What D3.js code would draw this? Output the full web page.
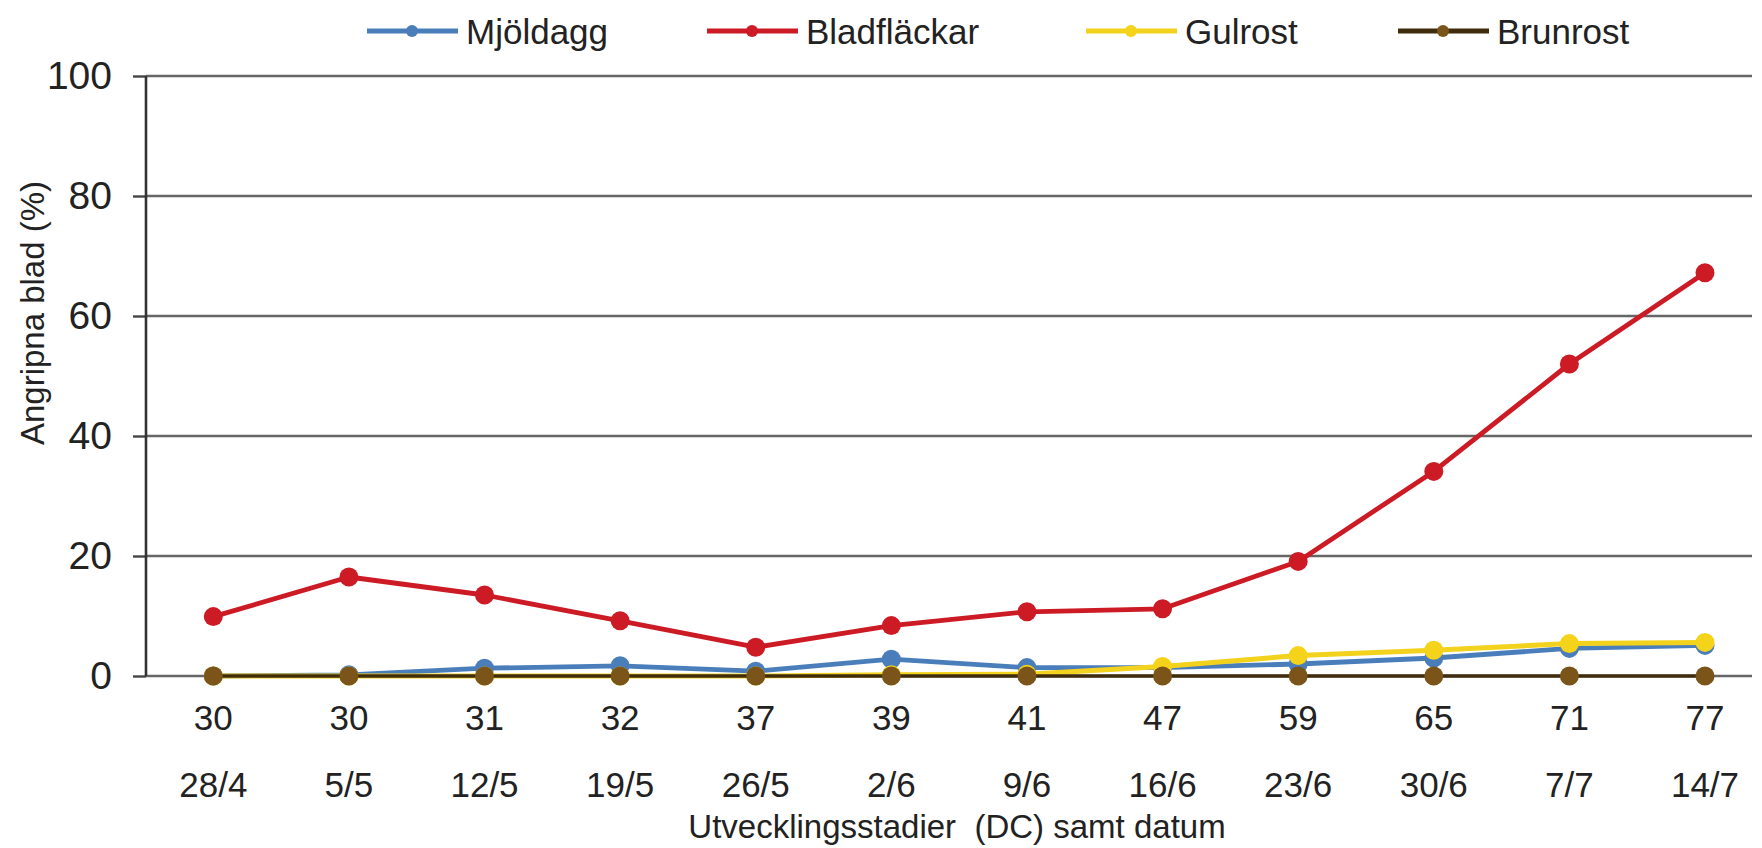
<!DOCTYPE html>
<html>
<head>
<meta charset="utf-8">
<script src="https://cdn.jsdelivr.net/npm/d3@7"></script>
<style>
  body { margin: 0; background: #fff; }
  svg text { font-family: "Liberation Sans", Arial, sans-serif; fill: #222; }
</style>
</head>
<body>
<svg id="chart" width="1762" height="848"></svg>
<script>
// data
const dcStages = ["30", "30", "31", "32", "37", "39", "41", "47", "59", "65", "71", "77"];
const dates = ["28/4", "5/5", "12/5", "19/5", "26/5", "2/6", "9/6", "16/6", "23/6", "30/6", "7/7", "14/7"];
const mjoldagg = [0, 0.2, 1.3, 1.7, 0.8, 2.8, 1.4, 1.4, 2.0, 3.0, 4.6, 5.1];
const bladflackar = [9.9, 16.5, 13.5, 9.2, 4.8, 8.4, 10.7, 11.2, 19.1, 34.1, 52.0, 67.2];
const gulrost = [0, 0, 0, 0, 0, 0.2, 0.3, 1.6, 3.4, 4.3, 5.4, 5.6];
const brunrost = [0, 0, 0, 0, 0, 0, 0, 0, 0, 0, 0, 0];
const yTicks = [0, 20, 40, 60, 80, 100];

const series = [
  { name: "Mjöldagg", values: mjoldagg, line: "#4a7ebb", dot: "#4a7ebb", width: 4.8 },
  { name: "Bladfläckar", values: bladflackar, line: "#cc1b25", dot: "#cc1b25", width: 4.8 },
  { name: "Gulrost", values: gulrost, line: "#f2d21c", dot: "#f5d31a", width: 5 },
  { name: "Brunrost", values: brunrost, line: "#3f2c0c", dot: "#7a5418", width: 3.5 }
];

const svg = d3.select("#chart");

const plotLeft = 146;
const plotRight = 1752;

const x = d3.scalePoint()
  .domain(d3.range(dcStages.length))
  .range([213.3, 1705]);

const y = d3.scaleLinear()
  .domain([0, 100])
  .range([676, 76]);

// ticks + labels on the left
const yAxis = svg.append("g")
  .attr("transform", `translate(${plotLeft},0)`)
  .call(d3.axisLeft(y)
    .tickValues(yTicks)
    .tickSize(13)
    .tickPadding(21));

yAxis.select(".domain").remove();
yAxis.selectAll(".tick line")
  .attr("stroke", "#444")
  .attr("stroke-width", 2.4);
yAxis.selectAll(".tick text")
  .attr("font-size", 39)
  .attr("font-family", "Liberation Sans, Arial, sans-serif")
  .attr("fill", "#222");

// horizontal gridlines
svg.append("g")
  .selectAll("line")
  .data(yTicks)
  .join("line")
    .attr("x1", plotLeft)
    .attr("x2", plotRight)
    .attr("y1", d => y(d))
    .attr("y2", d => y(d))
    .attr("stroke", "#666")
    .attr("stroke-width", 2.4);

// vertical axis line
svg.append("line")
  .attr("x1", plotLeft)
  .attr("x2", plotLeft)
  .attr("y1", y(100))
  .attr("y2", y(0))
  .attr("stroke", "#333")
  .attr("stroke-width", 2.6);

// x labels, two rows
svg.append("g")
  .selectAll("text")
  .data(dcStages)
  .join("text")
    .attr("x", (d, i) => x(i))
    .attr("y", 717)
    .attr("text-anchor", "middle")
    .attr("dominant-baseline", "central")
    .attr("font-size", 35)
    .text(d => d);

svg.append("g")
  .selectAll("text")
  .data(dates)
  .join("text")
    .attr("x", (d, i) => x(i))
    .attr("y", 784)
    .attr("text-anchor", "middle")
    .attr("dominant-baseline", "central")
    .attr("font-size", 35)
    .text(d => d);

// axis titles
svg.append("text")
  .attr("x", 957)
  .attr("y", 826)
  .attr("text-anchor", "middle")
  .attr("dominant-baseline", "central")
  .attr("font-size", 33)
  .attr("xml:space", "preserve")
  .text("Utvecklingsstadier  (DC) samt datum");

svg.append("text")
  .attr("transform", "translate(32,313) rotate(-90)")
  .attr("text-anchor", "middle")
  .attr("dominant-baseline", "central")
  .attr("font-size", 33)
  .text("Angripna blad (%)");

// lines + markers
const line = d3.line()
  .x((d, i) => x(i))
  .y(d => y(d));

series.forEach(s => {
  const g = svg.append("g");
  g.append("path")
    .datum(s.values)
    .attr("d", line)
    .attr("fill", "none")
    .attr("stroke", s.line)
    .attr("stroke-width", s.width)
    .attr("stroke-linejoin", "round");
  g.selectAll("circle")
    .data(s.values)
    .join("circle")
      .attr("cx", (d, i) => x(i))
      .attr("cy", d => y(d))
      .attr("r", 9.5)
      .attr("fill", s.dot);
});

// legend
const legendX = [367, 707, 1086, 1398];
const legend = svg.append("g")
  .selectAll("g")
  .data(series)
  .join("g")
    .attr("transform", (d, i) => `translate(${legendX[i]},31)`);

legend.append("line")
  .attr("x1", 0)
  .attr("x2", 91)
  .attr("stroke", d => d.line)
  .attr("stroke-width", 5);

legend.append("circle")
  .attr("cx", 45)
  .attr("r", 6)
  .attr("fill", d => d.dot);

legend.append("text")
  .attr("x", 99)
  .attr("dominant-baseline", "central")
  .attr("font-size", 35)
  .text(d => d.name);
</script>
</body>
</html>
